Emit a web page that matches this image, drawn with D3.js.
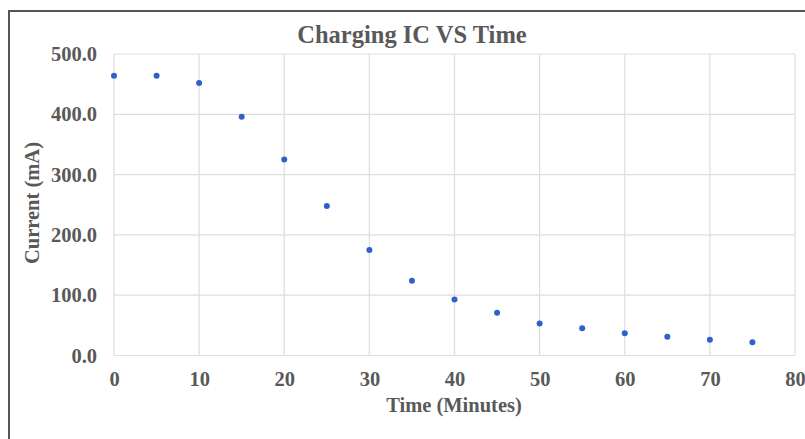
<!DOCTYPE html>
<html>
<head>
<meta charset="utf-8">
<script src="https://cdn.jsdelivr.net/npm/d3@7"></script>
<style>
  body { margin: 0; background: #fff; }
  svg { display: block; }
</style>
</head>
<body>
<div id="chart"></div>
<script>
// data
const times = [0, 5, 10, 15, 20, 25, 30, 35, 40, 45, 50, 55, 60, 65, 70, 75];
const currents = [464, 464, 452, 396, 325, 248, 175, 124, 93, 71, 53, 45, 37, 31, 26, 22];
const xTicks = [0, 10, 20, 30, 40, 50, 60, 70, 80];
const yTicks = [0, 100, 200, 300, 400, 500];

const width = 805, height = 439;
const margin = { left: 114, right: 10, top: 54, bottom: 83.5 };

const svg = d3.select("#chart")
    .append("svg")
    .attr("width", width)
    .attr("height", height);

// outer frame (only top and left edges are visible in the crop)
svg.append("path")
    .attr("d", `M9,${height} L9,11 L${width},11`)
    .attr("fill", "none")
    .attr("stroke", "#555")
    .attr("stroke-width", 2);

const x = d3.scaleLinear().domain([0, 80]).range([margin.left, width - margin.right]);
const y = d3.scaleLinear().domain([0, 500]).range([height - margin.bottom, margin.top]);

const font = "'Liberation Serif', 'Times New Roman', serif";

// gridlines
svg.append("g")
    .selectAll("line")
    .data(xTicks)
    .enter()
    .append("line")
    .attr("x1", d => x(d)).attr("x2", d => x(d))
    .attr("y1", y(0)).attr("y2", y(500))
    .attr("stroke", "#dedede")
    .attr("stroke-width", 1.2);

svg.append("g")
    .selectAll("line")
    .data(yTicks)
    .enter()
    .append("line")
    .attr("x1", x(0)).attr("x2", x(80))
    .attr("y1", d => y(d)).attr("y2", d => y(d))
    .attr("stroke", "#dedede")
    .attr("stroke-width", 1.2);

// axes, only for the labels
const xAxis = svg.append("g")
    .attr("transform", `translate(0,${y(0)})`)
    .call(d3.axisBottom(x).tickValues(xTicks).tickSize(0).tickPadding(16));
const yAxis = svg.append("g")
    .attr("transform", `translate(${x(0)},0)`)
    .call(d3.axisLeft(y).tickValues(yTicks).tickSize(0).tickPadding(17).tickFormat(d3.format(".1f")));

[xAxis, yAxis].forEach(g => {
    g.select(".domain").remove();
    g.selectAll("text")
        .attr("fill", "#595959")
        .style("font-family", font)
        .style("font-weight", "bold")
        .style("font-size", "20.5px");
});

// points
svg.append("g")
    .selectAll("circle")
    .data(times)
    .enter()
    .append("circle")
    .attr("cx", d => x(d))
    .attr("cy", (d, i) => y(currents[i]))
    .attr("r", 3)
    .attr("fill", "#2e62c9");

// titles
svg.append("text")
    .attr("x", 412)
    .attr("y", 43)
    .attr("text-anchor", "middle")
    .attr("fill", "#595959")
    .style("font-family", font)
    .style("font-weight", "bold")
    .style("font-size", "24.5px")
    .text("Charging IC VS Time");

svg.append("text")
    .attr("x", 454)
    .attr("y", 412)
    .attr("text-anchor", "middle")
    .attr("fill", "#595959")
    .style("font-family", font)
    .style("font-weight", "bold")
    .style("font-size", "20.5px")
    .text("Time (Minutes)");

svg.append("text")
    .attr("transform", `translate(39,203) rotate(-90)`)
    .attr("text-anchor", "middle")
    .attr("fill", "#595959")
    .style("font-family", font)
    .style("font-weight", "bold")
    .style("font-size", "20.5px")
    .text("Current (mA)");
</script>
</body>
</html>
